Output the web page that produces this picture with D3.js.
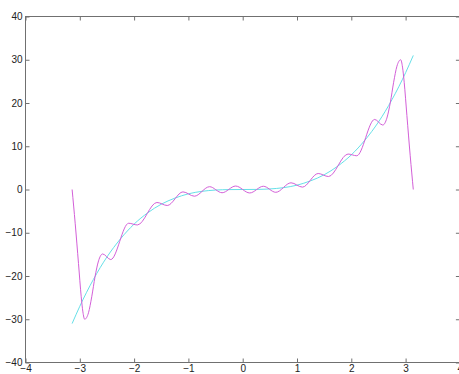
<!DOCTYPE html>
<html>
<head>
<meta charset="utf-8">
<script src="https://cdn.jsdelivr.net/npm/d3@7"></script>
<style>
  html, body { margin: 0; padding: 0; background: #fff; overflow: hidden; }
  svg { display: block; }
  .tick text { font-family: "Liberation Sans", Arial, sans-serif; font-size: 10px; fill: #222; }
</style>
</head>
<body>
<svg id="chart" width="459" height="374"></svg>
<script>
// Axis ticks
const xTicks = [-4, -3, -2, -1, 0, 1, 2, 3, 4];
const yTicks = [-40, -30, -20, -10, 0, 10, 20, 30, 40];

// Cubic curve samples
const cubicX = [-3.1416, -3.0, -2.75, -2.5, -2.25, -2.0, -1.75, -1.5, -1.25, -1.0, -0.75, -0.5, -0.25, 0,
                0.25, 0.5, 0.75, 1.0, 1.25, 1.5, 1.75, 2.0, 2.25, 2.5, 2.75, 3.0, 3.1416];
const cubicY = [-31.0, -27.0, -20.8, -15.6, -11.4, -8.0, -5.4, -3.4, -2.0, -1.0, -0.42, -0.13, -0.02, 0,
                0.02, 0.13, 0.42, 1.0, 2.0, 3.4, 5.4, 8.0, 11.4, 15.6, 20.8, 27.0, 31.0];

// Partial-sum approximation: endpoints, steep flanks and the turning points of each ripple
const approxX = [-3.1416, -3.085, -3.024, -2.974, -2.943, -2.91, -2.84, -2.78, -2.72, -2.655, -2.58,
                 -2.43, -2.10, -1.94, -1.58, -1.39, -1.10, -0.89, -0.61, -0.38, -0.13,
                 0.13, 0.38, 0.61, 0.89, 1.10, 1.39, 1.58, 1.94, 2.10, 2.43,
                 2.58, 2.655, 2.72, 2.78, 2.84, 2.91, 2.943, 2.974, 3.024, 3.085, 3.1416];
const approxY = [0, -7.8, -17.1, -24.8, -28.3, -30.0, -28.5, -24.8, -20.2, -16.5, -14.9,
                 -16.2, -7.8, -8.2, -3.0, -3.7, -0.55, -1.55, 0.65, -0.75, 0.8,
                 -0.8, 0.75, -0.65, 1.55, 0.55, 3.7, 3.0, 8.2, 7.8, 16.2,
                 14.9, 16.5, 20.2, 24.8, 28.5, 30.0, 28.3, 24.8, 17.1, 7.8, 0];

const svg = d3.select("#chart");
const plotLeft = 25.5, plotRight = 459.9, plotTop = 16.5, plotBottom = 362.5;

const x = d3.scaleLinear().domain([-4, 4]).range([plotLeft, plotRight]);
const y = d3.scaleLinear().domain([-40, 40]).range([plotBottom, plotTop]);

// Plot box
svg.append("rect")
  .attr("x", plotLeft).attr("y", plotTop)
  .attr("width", plotRight - plotLeft).attr("height", plotBottom - plotTop)
  .attr("fill", "none").attr("stroke", "#707070").attr("stroke-width", 1);

function styleAxis(g) {
  g.select(".domain").remove();
  g.selectAll(".tick line").attr("stroke", "#707070");
}

svg.append("g")
  .attr("transform", `translate(0,${plotBottom})`)
  .call(d3.axisBottom(x).tickValues(xTicks).tickSizeInner(-4).tickSizeOuter(0).tickPadding(2))
  .call(styleAxis);

svg.append("g")
  .attr("transform", `translate(0,${plotTop})`)
  .call(d3.axisTop(x).tickValues(xTicks).tickSizeInner(-4).tickSizeOuter(0).tickFormat(""))
  .call(styleAxis);

svg.append("g")
  .attr("transform", `translate(${plotLeft},0)`)
  .call(d3.axisLeft(y).tickValues(yTicks).tickSizeInner(-4).tickSizeOuter(0).tickPadding(3))
  .call(styleAxis);

svg.append("g")
  .attr("transform", `translate(${plotRight},0)`)
  .call(d3.axisRight(y).tickValues(yTicks).tickSizeInner(-4).tickSizeOuter(0).tickFormat(""))
  .call(styleAxis);

const line = d3.line()
  .x(d => x(d[0]))
  .y(d => y(d[1]))
  .curve(d3.curveMonotoneX);

svg.append("path")
  .datum(d3.zip(cubicX, cubicY))
  .attr("d", line)
  .attr("fill", "none")
  .attr("stroke", "#66e0e8")
  .attr("stroke-width", 1);

svg.append("path")
  .datum(d3.zip(approxX, approxY))
  .attr("d", line)
  .attr("fill", "none")
  .attr("stroke", "#d35fd8")
  .attr("stroke-width", 1);
</script>
</body>
</html>
